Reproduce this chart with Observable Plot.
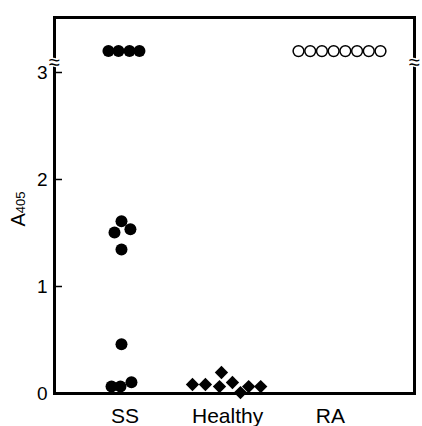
<!DOCTYPE html>
<html><head><meta charset="utf-8">
<script src="https://cdn.jsdelivr.net/npm/d3@7"></script>
<script src="https://cdn.jsdelivr.net/npm/@observablehq/plot@0.6"></script>
<style>body{margin:0;background:#fff} svg{display:block}</style>
</head><body><div id="chart"></div>
<script>
// Categories and their positions on the x axis
const groups = ["SS", "Healthy", "RA"];
const groupPos = [1, 2, 3];

// A405 values and horizontal jitter (in category units) per group
const ssValues  = [3.2, 3.2, 3.2, 3.2, 1.61, 1.505, 1.535, 1.345, 0.46, 0.065, 0.065, 0.105];
const ssOffsets = [-0.16, -0.062, 0.045, 0.142, -0.033, -0.101, 0.054, -0.033, -0.033, -0.13, -0.043, 0.064];

const healthyValues  = [0.084, 0.084, 0.065, 0.196, 0.103, 0.009, 0.065, 0.065];
const healthyOffsets = [-0.342, -0.216, -0.079, -0.06, 0.047, 0.125, 0.205, 0.322];

const raValues  = [3.2, 3.2, 3.2, 3.2, 3.2, 3.2, 3.2, 3.2];
const raOffsets = [-0.31, -0.196, -0.082, 0.032, 0.146, 0.26, 0.374, 0.488];

const yTicks = [0, 1, 2, 3];
const breakValue = 3.09;
const xDomain = [0.315, 3.819];
const yDomain = [0, 3.514];

const pts = (vals, offs, gi) => vals.map((v, i) => ({x: groupPos[gi] + offs[i], y: v}));
const ss = pts(ssValues, ssOffsets, 0);
const healthy = pts(healthyValues, healthyOffsets, 1);
const ra = pts(raValues, raOffsets, 2);
const breaks = [xDomain[0], xDomain[1]].map(x => ({x, y: breakValue}));
const tickLen = 8 * (xDomain[1] - xDomain[0]) / 360; // inward tick length, ~8px

const font = "'Liberation Sans', Arial, Helvetica, sans-serif";

const plot = Plot.plot({
  width: 422, height: 426,
  marginLeft: 54, marginRight: 8, marginTop: 17, marginBottom: 33,
  style: {fontFamily: font, background: "white", color: "black"},
  x: {domain: xDomain},
  y: {domain: yDomain},
  marks: [
    Plot.axisX({ticks: groupPos, tickFormat: d => groups[groupPos.indexOf(d)], tickSize: 0, tickPadding: 15, fontSize: 21, label: null}),
    Plot.axisY({ticks: yTicks, tickFormat: d3.format("d"), tickSize: 0, tickPadding: 7, fontSize: 19, label: null}),
    Plot.ruleY(yTicks, {y: d => d, x1: xDomain[0], x2: xDomain[0] + tickLen, stroke: "black", strokeWidth: 1.5}),
    Plot.frame({strokeWidth: 3, stroke: "black"}),
    Plot.text(breaks, {x: "x", y: "y", text: () => "≈", fontSize: 20, fill: "black", stroke: "white", strokeWidth: 3, paintOrder: "stroke"}),
    Plot.dot(ss, {x: "x", y: "y", r: 6, fill: "black", symbol: "circle"}),
    Plot.dot(healthy, {x: "x", y: "y", r: 6, fill: "black", symbol: "diamond2"}),
    Plot.dot(ra, {x: "x", y: "y", r: 5.4, fill: "white", stroke: "black", strokeWidth: 1.5})
  ]
});

const svg = d3.select(plot);
const lab = svg.append("text")
  .attr("transform", "translate(25,209) rotate(-90)")
  .attr("text-anchor", "middle")
  .attr("font-family", font)
  .attr("font-size", 20)
  .attr("fill", "black");
lab.append("tspan").text("A");
lab.append("tspan").attr("font-size", 13).text("405");

document.getElementById("chart").appendChild(plot);
</script>
</body></html>
